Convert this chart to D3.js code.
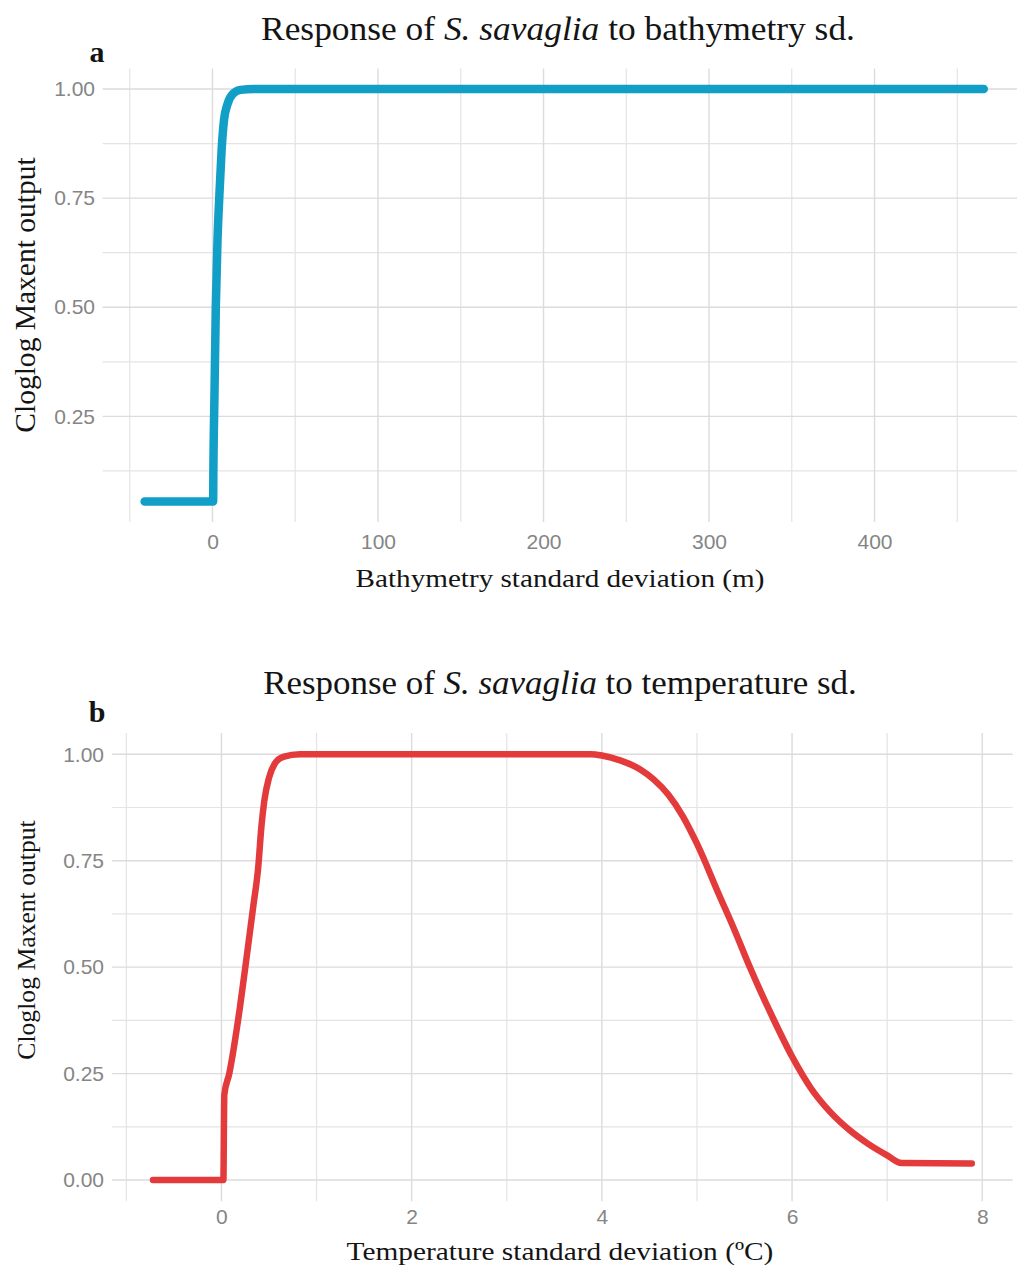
<!DOCTYPE html>
<html>
<head>
<meta charset="utf-8">
<script src="https://cdn.jsdelivr.net/npm/d3@7"></script>
<style>
  html, body { margin: 0; padding: 0; background: #ffffff; }
  svg { display: block; }
</style>
</head>
<body>
<svg id="chart" width="1017" height="1265"></svg>
<script>
// ---------- data ----------
// Panel a: bathymetry standard deviation (m) vs cloglog output
const bathyX = [-41, 0.4, 0.5, 1.2, 2.0, 3.0, 4.2, 5.5, 7.0, 9.0, 12.6, 17, 25, 466];
const bathyY = [0.055, 0.055, 0.11, 0.30, 0.50, 0.65, 0.76, 0.86, 0.93, 0.965, 0.99, 0.998, 1.0, 1.0];

// Panel b: temperature standard deviation (ºC) vs cloglog output
const tempX = [-0.72, 0.02, 0.03, 0.082, 0.195, 0.265, 0.334, 0.387, 0.42, 0.45, 0.5, 0.56, 0.65, 0.825,
               3.88, 4.0, 4.2, 4.4, 4.55, 4.7, 4.85, 5.0, 5.24, 5.38, 5.56, 5.8, 6.0, 6.2, 6.4, 6.6, 6.8, 7.0, 7.15, 7.89];
const tempY = [0, 0, 0.2, 0.25, 0.407, 0.524, 0.642, 0.736, 0.83, 0.89, 0.945, 0.978, 0.994, 1.0,
               1.0, 0.997, 0.985, 0.965, 0.94, 0.905, 0.855, 0.79, 0.666, 0.595, 0.498, 0.38, 0.29, 0.215, 0.16, 0.118, 0.085, 0.058, 0.04, 0.039];

// Tick / grid values
const bathyXTicks = [0, 100, 200, 300, 400];
const bathyXMinor = [-50, 50, 150, 250, 350, 450];
const bathyYTicks = [0.25, 0.50, 0.75, 1.00];
const bathyYMinor = [0.125, 0.375, 0.625, 0.875];

const tempXTicks = [0, 2, 4, 6, 8];
const tempXMinor = [-1, 1, 3, 5, 7];
const tempYTicks = [0.00, 0.25, 0.50, 0.75, 1.00];
const tempYMinor = [0.125, 0.375, 0.625, 0.875];

// Texts
const panelLetters = ["a", "b"];
const titleParts = [
  ["Response of ", "S. savaglia", " to bathymetry sd."],
  ["Response of ", "S. savaglia", " to temperature sd."]
];
const xTitles = ["Bathymetry standard deviation (m)", "Temperature standard deviation (ºC)"];
const yTitle = "Cloglog Maxent output";

// ---------- drawing ----------
const svg = d3.select("#chart");
const SERIF = "'Liberation Serif', 'DejaVu Serif', serif";
const SANS = "'Liberation Sans', Arial, sans-serif";
const GRID_MAJOR = "#dedade";
const GRID_MINOR = "#e6e3e6";

function fitWidth(sel, targetW, cx) {
  const w = sel.node().getBBox().width;
  const s = targetW / w;
  sel.attr("transform", `translate(${cx},0) scale(${s},1) translate(${-cx},0)`);
}

const panels = [
  {
    xs: bathyX, ys: bathyY,
    xDomain: [-66.4, 491.4], xRange: [102.6, 1025.8],
    yDomain: [0.008, 1.047], yRange: [522, 68.5],
    xTicks: bathyXTicks, xMinor: bathyXMinor, yTicks: bathyYTicks, yMinor: bathyYMinor,
    color: "#129fc7", width: 8.5,
    titleY: 40, titleCx: 558, titleW: 594,
    letterX: 97, letterY: 62,
    yLabelRight: 95, xLabelBaseline: 549,
    xTitleY: 587, xTitleCx: 560, xTitleW: 409,
    yTitleCy: 295, yTitleX: 35, yTitleLen: 276
  },
  {
    xs: tempX, ys: tempY,
    xDomain: [-1.15, 8.32], xRange: [112.1, 1012.7],
    yDomain: [-0.05, 1.05], yRange: [1201.3, 733.0],
    xTicks: tempXTicks, xMinor: tempXMinor, yTicks: tempYTicks, yMinor: tempYMinor,
    color: "#e33b3b", width: 6.5,
    titleY: 694, titleCx: 560, titleW: 594,
    letterX: 97, letterY: 722,
    yLabelRight: 104, xLabelBaseline: 1224,
    xTitleY: 1260, xTitleCx: 560, xTitleW: 427,
    yTitleCy: 940, yTitleX: 35, yTitleLen: 240
  }
];

panels.forEach((p, i) => {
  const x = d3.scaleLinear().domain(p.xDomain).range(p.xRange);
  const y = d3.scaleLinear().domain(p.yDomain).range(p.yRange);
  const g = svg.append("g");
  const x0 = Math.min(...p.xRange), x1 = Math.min(1017, Math.max(...p.xRange));
  const y0 = Math.min(...p.yRange), y1 = Math.max(...p.yRange);

  // minor grid
  g.append("g").selectAll("line").data(p.xMinor).join("line")
    .attr("x1", d => x(d)).attr("x2", d => x(d)).attr("y1", y0).attr("y2", y1)
    .attr("stroke", GRID_MINOR).attr("stroke-width", 1.2);
  g.append("g").selectAll("line").data(p.yMinor).join("line")
    .attr("y1", d => y(d)).attr("y2", d => y(d)).attr("x1", x0).attr("x2", x1)
    .attr("stroke", GRID_MINOR).attr("stroke-width", 1.2);
  // major grid
  g.append("g").selectAll("line").data(p.xTicks).join("line")
    .attr("x1", d => x(d)).attr("x2", d => x(d)).attr("y1", y0).attr("y2", y1)
    .attr("stroke", GRID_MAJOR).attr("stroke-width", 1.4);
  g.append("g").selectAll("line").data(p.yTicks).join("line")
    .attr("y1", d => y(d)).attr("y2", d => y(d)).attr("x1", x0).attr("x2", x1)
    .attr("stroke", GRID_MAJOR).attr("stroke-width", 1.4);

  // axes (labels only)
  const xAxis = d3.axisBottom(x).tickValues(p.xTicks).tickSize(0).tickPadding(0).tickFormat(d3.format("d"));
  const gx = g.append("g").attr("transform", `translate(0,${p.xLabelBaseline - 15})`).call(xAxis);
  gx.select(".domain").remove();
  gx.selectAll("text").attr("font-family", SANS).attr("font-size", 21).attr("fill", "#858585").attr("dy", "0.71em");

  const yAxis = d3.axisLeft(y).tickValues(p.yTicks).tickSize(0).tickPadding(0).tickFormat(d3.format(".2f"));
  const gy = g.append("g").attr("transform", `translate(${p.yLabelRight},0)`).call(yAxis);
  gy.select(".domain").remove();
  gy.selectAll("text").attr("font-family", SANS).attr("font-size", 21).attr("fill", "#858585");

  // curve
  const pts = p.xs.map((v, k) => [v, p.ys[k]]);
  const line = d3.line().x(d => x(d[0])).y(d => y(d[1])).curve(d3.curveMonotoneX);
  g.append("path").datum(pts).attr("d", line)
    .attr("fill", "none").attr("stroke", p.color).attr("stroke-width", p.width)
    .attr("stroke-linejoin", "round").attr("stroke-linecap", "round");

  // title
  const t = g.append("text").attr("x", p.titleCx).attr("y", p.titleY)
    .attr("text-anchor", "middle").attr("font-family", SERIF).attr("font-size", 33).attr("fill", "#141414");
  titleParts[i].forEach((s, k) => {
    t.append("tspan").text(s).attr("font-style", k === 1 ? "italic" : "normal");
  });
  fitWidth(t, p.titleW, p.titleCx);

  // panel letter
  g.append("text").attr("x", p.letterX).attr("y", p.letterY).attr("text-anchor", "middle")
    .attr("font-family", SERIF).attr("font-weight", "bold").attr("font-size", 30).attr("fill", "#141414")
    .text(panelLetters[i]);

  // x title
  const xt = g.append("text").attr("x", p.xTitleCx).attr("y", p.xTitleY).attr("text-anchor", "middle")
    .attr("font-family", SERIF).attr("font-size", 26).attr("fill", "#141414").text(xTitles[i]);
  fitWidth(xt, p.xTitleW, p.xTitleCx);

  // y title
  const yt = g.append("text").attr("text-anchor", "middle")
    .attr("transform", `translate(${p.yTitleX},${p.yTitleCy}) rotate(-90)`)
    .attr("font-family", SERIF).attr("font-size", 24).attr("fill", "#141414").text(yTitle);
  const len = yt.node().getBBox().width;
  yt.attr("font-size", 24 * p.yTitleLen / len);
});
</script>
</body>
</html>
